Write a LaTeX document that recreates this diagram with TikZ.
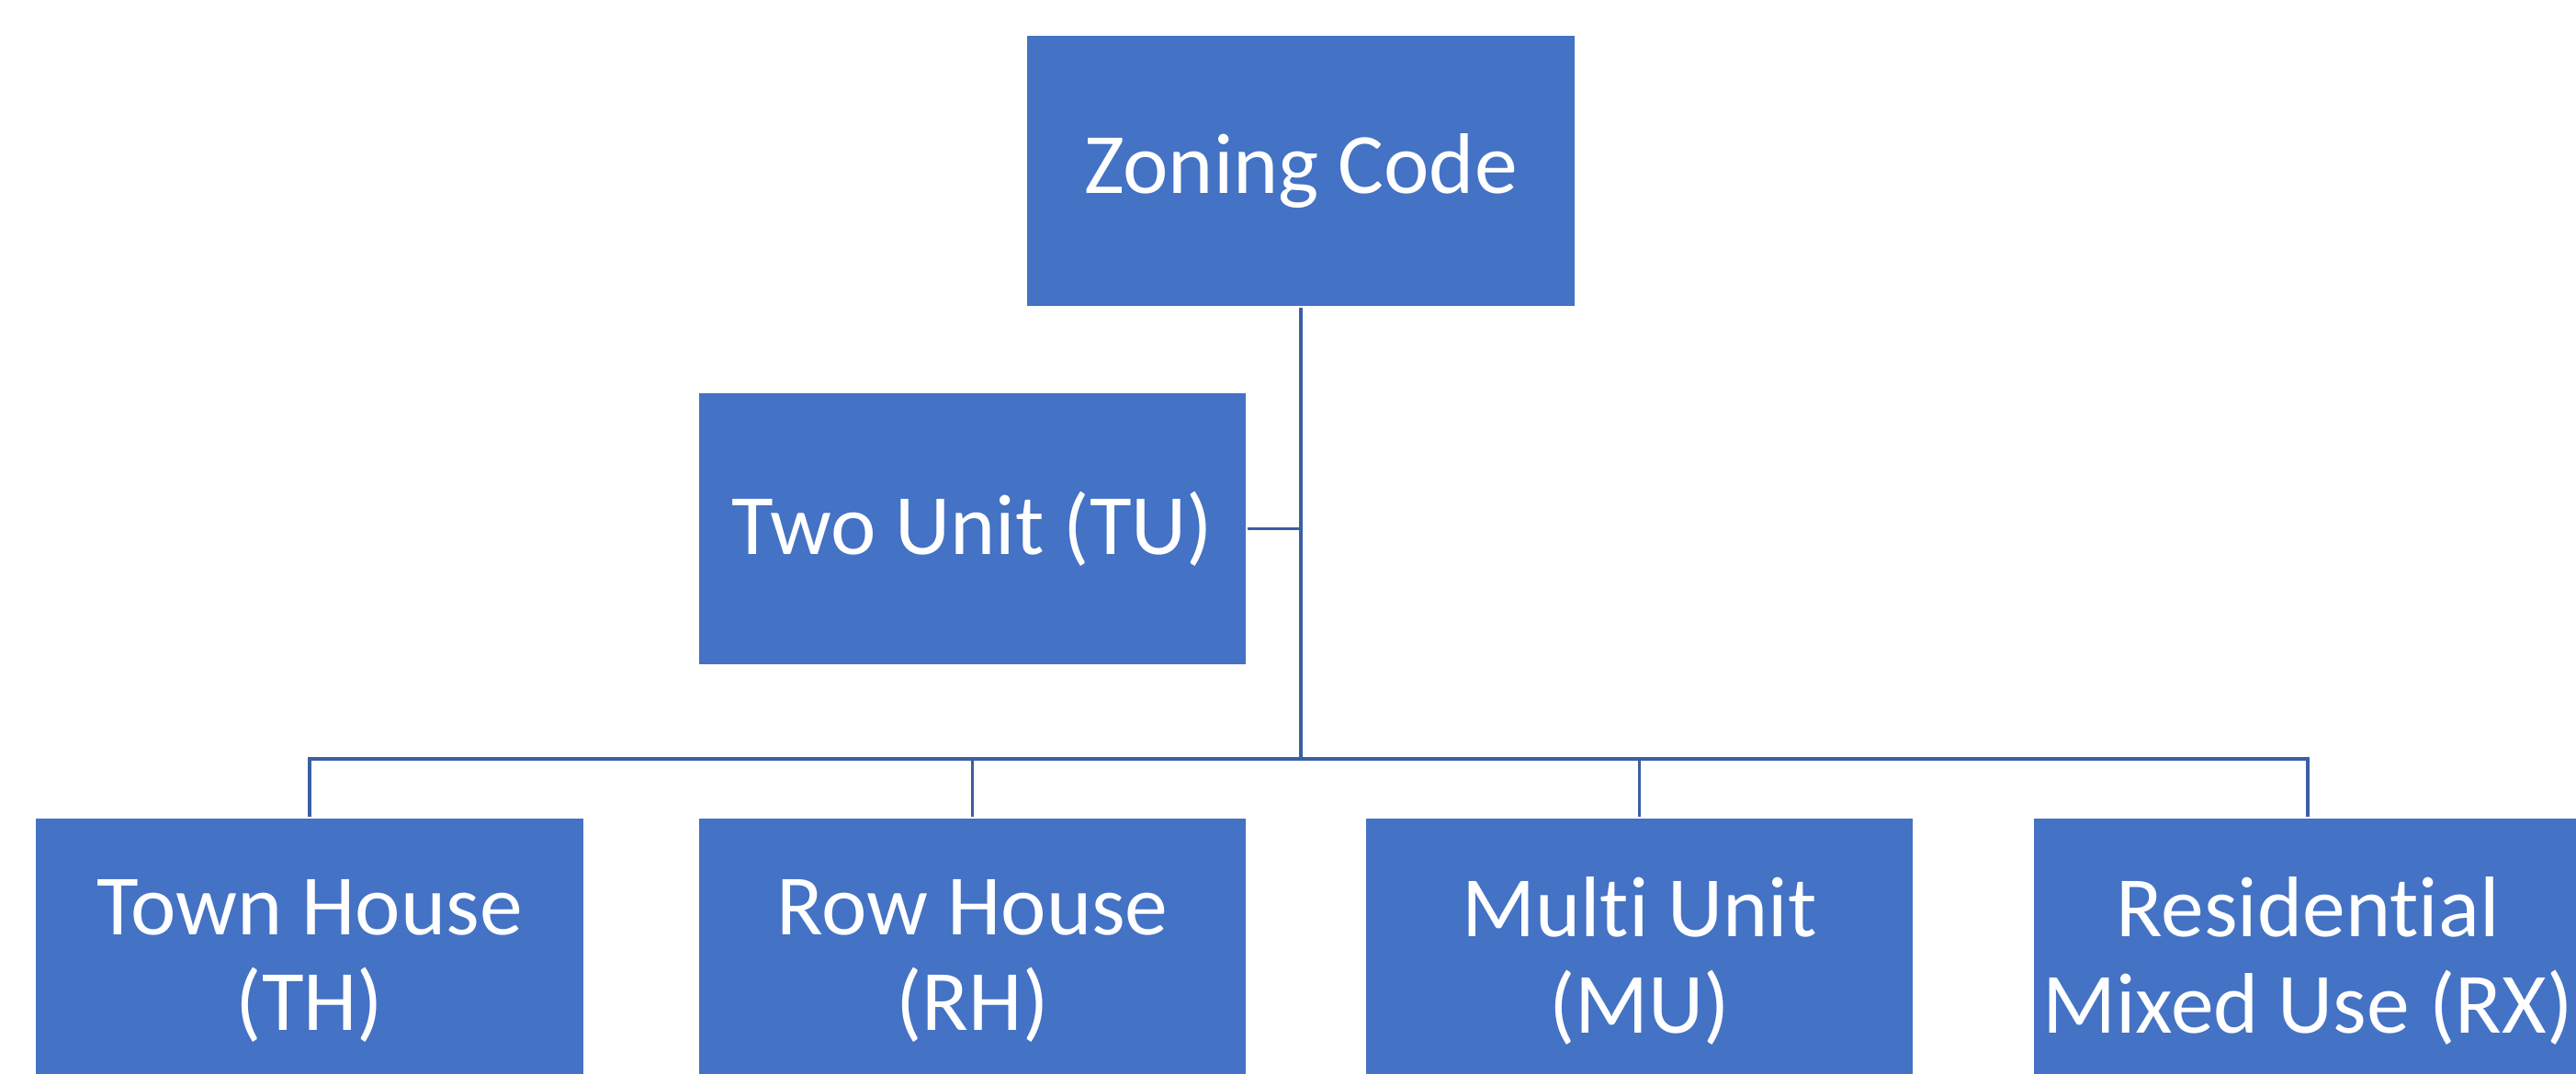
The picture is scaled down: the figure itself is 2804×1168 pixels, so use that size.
\documentclass[tikz,border=0pt]{standalone}
\usepackage{fontspec}
\setmainfont{Carlito}[Ligatures=CommonOff]
\definecolor{boxblue}{HTML}{4472C4}
\definecolor{lineblue}{HTML}{3A5FA3}
\begin{document}
\begin{tikzpicture}[x=0.25pt,y=-0.25pt,
  unit/.style={draw=white, line width=0.4pt, fill=boxblue, text=white,
    minimum width=149.25pt, minimum height=74pt, inner sep=0pt,
    align=center, font=\fontsize{23.4}{26.2}\selectfont},
  tall/.style={minimum height=78pt},
  link/.style={draw=lineblue, line width=0.8pt}]
  \useasboundingbox (0,0) rectangle (2804,1168);
  \clip (0,0) rectangle (2804,1168);

  % zoning hierarchy
  \node[unit] (top) at (1416,186) {Zoning Code};
  \node[unit] (tu)  at (1058.5,575.5) {Two Unit (TU)};
  \node[unit,tall] (th)  at (337,1046) {Town House\\(TH)};
  \node[unit,tall] (rh)  at (1058.5,1046) {Row House\\(RH)};
  \node[unit,tall] (mu)  at (1784.5,1046) {Multi Unit\\(MU)};
  \node[unit,tall] (rx)  at (2512,1046) {Residential\\Mixed Use (RX)};

  \coordinate (bus) at (1416,826);

  % trunk and branch lines
  \draw[link] (top.south) -- (bus);
  \draw[link] (tu.east) -- (tu.east -| bus);
  \draw[link] (th.north) -- (th.north |- bus) -- (rx.north |- bus) -- (rx.north);
  \draw[link] (rh.north) -- (rh.north |- bus);
  \draw[link] (mu.north) -- (mu.north |- bus);
\end{tikzpicture}
\end{document}
